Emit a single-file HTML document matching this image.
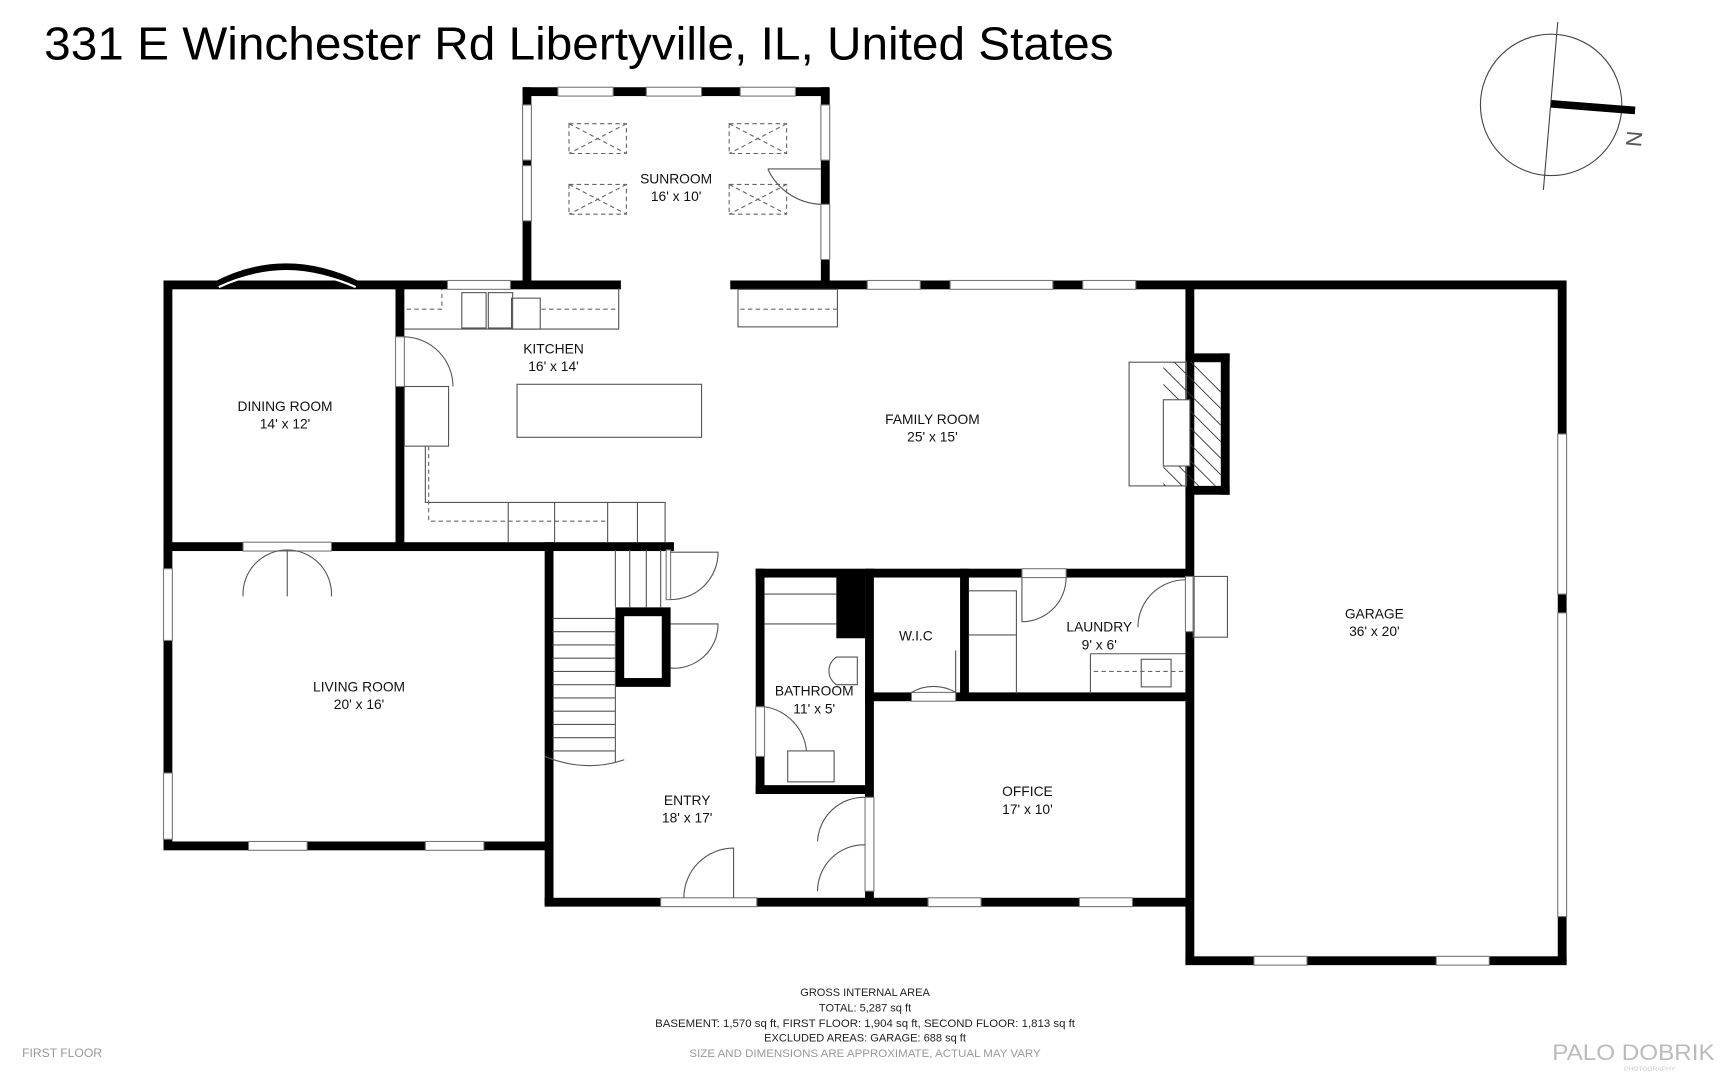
<!DOCTYPE html>
<html><head><meta charset="utf-8"><style>
html,body{margin:0;padding:0;background:#fff;width:1729px;height:1080px;overflow:hidden}
svg{display:block}
text{font-family:"Liberation Sans",sans-serif}
.l{font-size:12.5px;fill:#111;text-anchor:middle}
.t{fill:none;stroke:#555;stroke-width:1}
.d{fill:none;stroke:#666;stroke-width:1;stroke-dasharray:4 3}
.w{fill:#fff;stroke:#777;stroke-width:1}
</style></head><body>
<svg width="1729" height="1080" viewBox="0 0 1565 978" preserveAspectRatio="none" xmlns="http://www.w3.org/2000/svg">
<text x="40" y="54" font-size="42" textLength="968" lengthAdjust="spacingAndGlyphs" fill="#000">331 E Winchester Rd Libertyville, IL, United States</text>
<!-- compass -->
<circle cx="1404" cy="95" r="64" fill="none" stroke="#444" stroke-width="1"/>
<line x1="1410" y1="20" x2="1397" y2="172" stroke="#444" stroke-width="1"/>
<line x1="1404" y1="94" x2="1480" y2="100" stroke="#000" stroke-width="7"/>
<text x="1482" y="130" font-size="20" fill="#555" transform="rotate(-85 1482 126)" text-anchor="middle">N</text>

<g fill="#000">
<rect x="473" y="79" width="277" height="8"/>
<rect x="473" y="79" width="8" height="182"/>
<rect x="743" y="79" width="8" height="182"/>
<rect x="148" y="254" width="414" height="8"/>
<rect x="661" y="254" width="756" height="8"/>
<rect x="148" y="254" width="8" height="515"/>
<rect x="358" y="254" width="8" height="244"/>
<rect x="148" y="491" width="462" height="8"/>
<rect x="148" y="762" width="352" height="8"/>
<rect x="493" y="491" width="8" height="329"/>
<rect x="493" y="813" width="584" height="8"/>
<rect x="1073" y="254" width="8" height="619"/>
<rect x="1410" y="254" width="8" height="619"/>
<rect x="1073" y="866" width="345" height="8"/>
<rect x="1073" y="320" width="40" height="8"/>
<rect x="1073" y="440" width="40" height="8"/>
<rect x="1105" y="320" width="8" height="128"/>
<rect x="684" y="515" width="393" height="8"/>
<rect x="684" y="515" width="8" height="204"/>
<rect x="684" y="711" width="106" height="8"/>
<rect x="783" y="515" width="8" height="300"/>
<rect x="757" y="522" width="26" height="56"/>
<rect x="869" y="515" width="8" height="119"/>
<rect x="783" y="627" width="294" height="8"/>
<rect x="557" y="550" width="50" height="72"/>
</g>
<rect x="565" y="558" width="34" height="56" fill="#fff"/>
<g class="w">
<rect x="505" y="79" width="50" height="8"/><rect x="585" y="79" width="50" height="8"/><rect x="670" y="79" width="50" height="8"/>
<rect x="473" y="95" width="8" height="50"/><rect x="473" y="150" width="8" height="50"/>
<rect x="743" y="95" width="8" height="50"/><rect x="743" y="185" width="8" height="50"/>
<rect x="405" y="254" width="57" height="8"/>
<rect x="785" y="254" width="48" height="8"/><rect x="860" y="254" width="93" height="8"/><rect x="980" y="254" width="48" height="8"/>
<rect x="220" y="491" width="80" height="8"/>
<rect x="148" y="515" width="8" height="65"/><rect x="148" y="700" width="8" height="60"/>
<rect x="225" y="762" width="53" height="8"/><rect x="385" y="762" width="53" height="8"/>
<rect x="598" y="813" width="87" height="8"/><rect x="840" y="813" width="48" height="8"/><rect x="977" y="813" width="48" height="8"/>
<rect x="1135" y="866" width="48" height="8"/><rect x="1300" y="866" width="48" height="8"/>
<rect x="1410" y="393" width="8" height="145"/><rect x="1410" y="555" width="8" height="275"/>
<rect x="358" y="305" width="8" height="45"/>
<rect x="684" y="640" width="8" height="45"/>
<rect x="783" y="722" width="8" height="85"/>
<rect x="603" y="498" width="4" height="45"/>
<rect x="825" y="627" width="40" height="8"/>
<rect x="925" y="515" width="40" height="8"/>
<rect x="1073" y="522" width="8" height="50"/>
</g>
<path d="M195 258 Q258 225 325 258" fill="none" stroke="#000" stroke-width="6"/>
<path d="M198 260 Q258 232 322 260" fill="none" stroke="#fff" stroke-width="2"/>
<g class="t">
<path d="M366 305 A45 45 0 0 1 410 350"/>
<path d="M260 498 V540 M260 498 A40 40 0 0 1 300 540 M260 498 A40 40 0 0 0 220 540"/>
<path d="M607 500 H650 A43 43 0 0 1 607 543"/>
<path d="M607 565 H650 A40 40 0 0 1 607 605"/>
<path d="M692 640 A45 45 0 0 1 730 680"/>
<path d="M783 722 A42 42 0 0 0 740 762 M783 765 A42 42 0 0 0 740 807"/>
<path d="M664 813 V768 A45 45 0 0 0 619 813"/>
<path d="M865 589 V627 A40 40 0 0 0 825 627"/>
<path d="M925 523 V563 A40 40 0 0 0 965 523"/>
<path d="M1073 525 A43 43 0 0 0 1030 568"/>
<path d="M695 153 A55 55 0 0 0 743 185 M695 153 H743"/>
</g>
<g class="d">
<rect x="515" y="112" width="52" height="27"/><path d="M515 112 L567 139 M567 112 L515 139"/>
<rect x="660" y="112" width="52" height="27"/><path d="M660 112 L712 139 M712 112 L660 139"/>
<rect x="515" y="167" width="52" height="27"/><path d="M515 167 L567 194 M567 167 L515 194"/>
<rect x="660" y="167" width="52" height="27"/><path d="M660 167 L712 194 M712 167 L660 194"/>
</g>
<g class="t">
<path d="M366 298 H560 V261"/>
<rect x="418" y="265" width="22" height="32"/><rect x="442" y="265" width="22" height="32"/>
<rect x="463" y="270" width="26" height="28"/>
<rect x="468" y="348" width="167" height="48"/>
<rect x="366" y="350" width="40" height="54"/>
<path d="M385 404 V455 H602 V491 M460 455 V491 M502 455 V491 M550 455 V491 M577 455 V491"/>
<rect x="668" y="262" width="90" height="34"/>
<rect x="1022" y="328" width="52" height="112"/>
<rect x="1080" y="522" width="31" height="55"/>
<path d="M692 565 H757 M692 538 H757"/>
<path d="M776 595 H757 A15 15 0 0 0 757 620 H776 Z"/>
<rect x="713" y="680" width="42" height="28"/>
<path d="M877 535 H920 V628 M877 575 H920"/>
<path d="M987 592 H1073 M987 592 V628"/><rect x="1033" y="597" width="27" height="25"/>
<path d="M500 560 H557 M500 572 H557 M500 584 H557 M500 596 H557 M500 608 H557 M500 620 H557 M500 632 H557 M500 644 H557 M500 656 H557 M500 668 H557 M500 680 H557 M557 560 V690 M557 498 V550 M570 498 V550 M585 498 V550 M598 498 V550"/>
<path d="M493 685 Q530 700 565 688"/>
</g>
<g class="d"><path d="M368 280 H400 V262 M490 280 H560 M388 404 V472 H550 M670 280 H758 M990 608 H1073"/></g>
<clipPath id="hc"><rect x="1053" y="328" width="52" height="112"/></clipPath>
<g clip-path="url(#hc)" stroke="#333" stroke-width="0.8">
<path d="M1040 320 L1140 420 M1040 335 L1140 435 M1040 350 L1140 450 M1040 305 L1140 405 M1040 290 L1140 390 M1040 365 L1140 465 M1040 380 L1140 480 M1040 395 L1140 495 M1040 410 L1140 510 M1040 425 L1140 525"/>
</g>
<rect x="1053" y="362" width="24" height="60" fill="#fff" stroke="#555"/>
<g class="l">
<text x="612" y="166">SUNROOM</text><text x="612" y="182">16' x 10'</text>
<text x="501" y="320">KITCHEN</text><text x="501" y="336">16' x 14'</text>
<text x="258" y="372">DINING ROOM</text><text x="258" y="388">14' x 12'</text>
<text x="844" y="384">FAMILY ROOM</text><text x="844" y="400">25' x 15'</text>
<text x="1244" y="560">GARAGE</text><text x="1244" y="576">36' x 20'</text>
<text x="829" y="580">W.I.C</text>
<text x="995" y="572">LAUNDRY</text><text x="995" y="588">9' x 6'</text>
<text x="325" y="626">LIVING ROOM</text><text x="325" y="642">20' x 16'</text>
<text x="737" y="630">BATHROOM</text><text x="737" y="646">11' x 5'</text>
<text x="930" y="721">OFFICE</text><text x="930" y="737">17' x 10'</text>
<text x="622" y="729">ENTRY</text><text x="622" y="745">18' x 17'</text>
</g>
<g font-size="10" fill="#222" text-anchor="middle">
<text x="783" y="902">GROSS INTERNAL AREA</text>
<text x="783" y="916">TOTAL: 5,287 sq ft</text>
<text x="783" y="930" textLength="380" lengthAdjust="spacingAndGlyphs">BASEMENT: 1,570 sq ft, FIRST FLOOR: 1,904 sq ft, SECOND FLOOR: 1,813 sq ft</text>
<text x="783" y="943">EXCLUDED AREAS: GARAGE: 688 sq ft</text>
<text x="783" y="957" fill="#999" textLength="318" lengthAdjust="spacingAndGlyphs">SIZE AND DIMENSIONS ARE APPROXIMATE, ACTUAL MAY VARY</text>
</g>
<text x="20" y="957" font-size="11" fill="#999">FIRST FLOOR</text>
<text x="1405" y="960" font-size="20" fill="#bbb" textLength="147" lengthAdjust="spacingAndGlyphs">PALO DOBRIK</text>
<text x="1470" y="970" font-size="6" fill="#ccc">PHOTOGRAPHY</text>
</svg>
</body></html>
